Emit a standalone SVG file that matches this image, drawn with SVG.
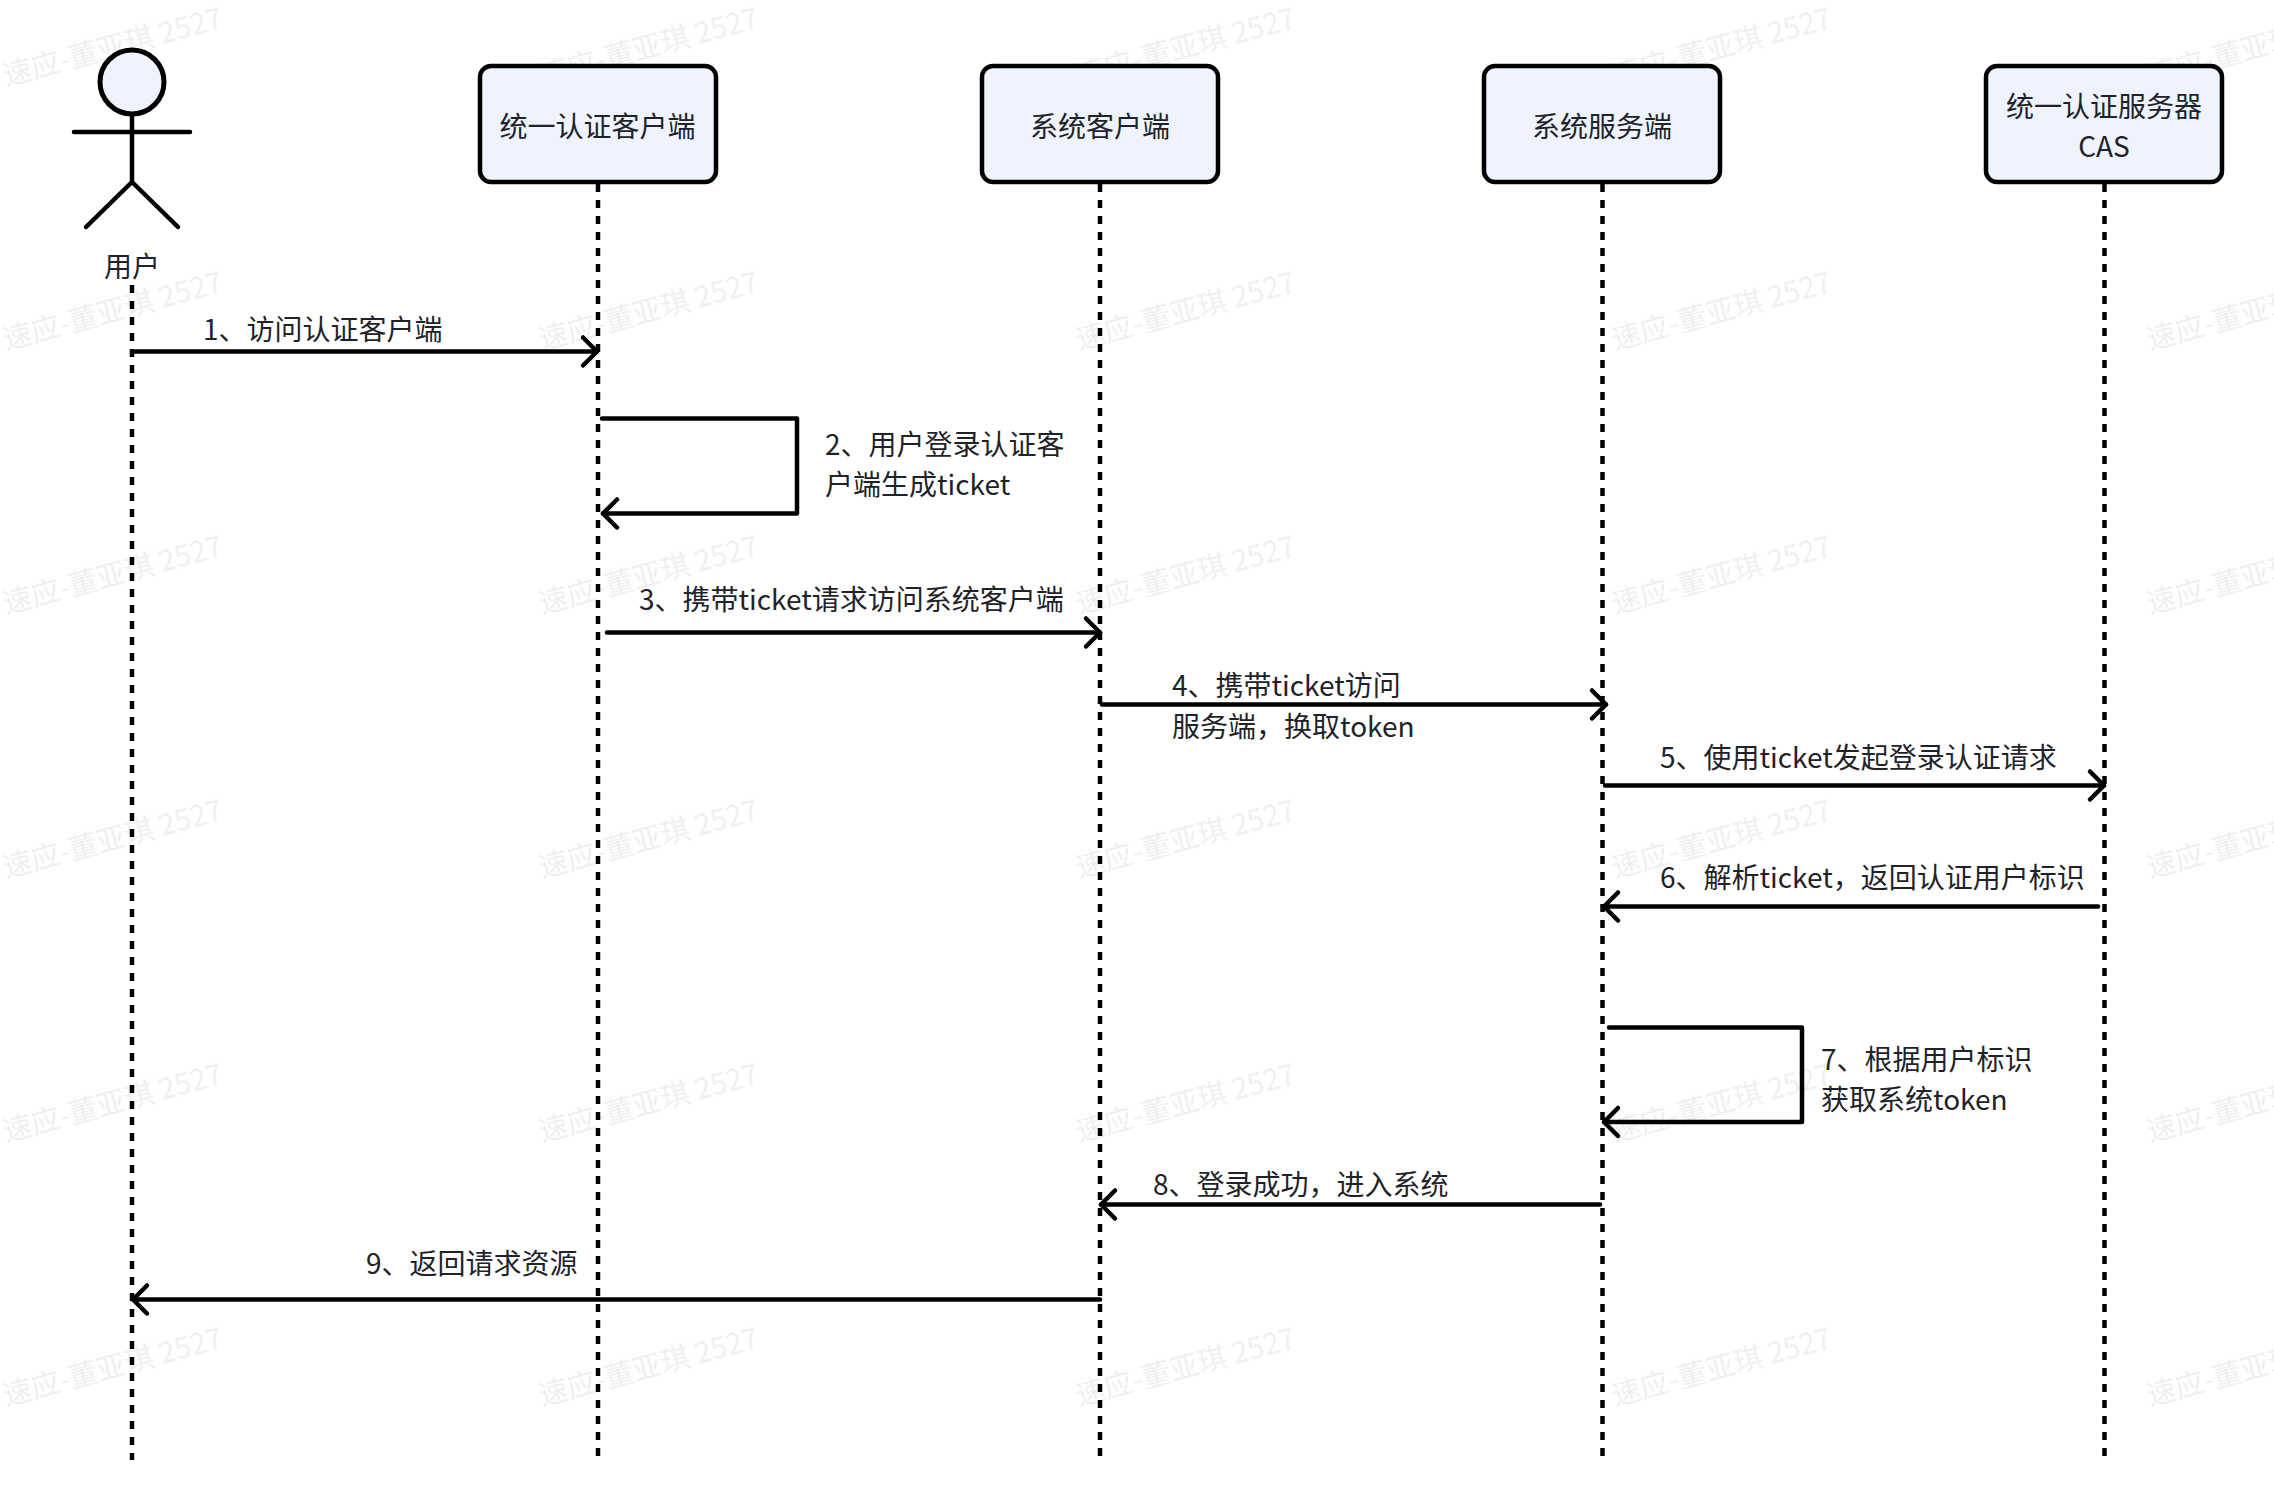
<svg xmlns="http://www.w3.org/2000/svg" width="2274" height="1512" viewBox="0 0 2274 1512">
<style>
text{font-family:"Noto Sans CJK SC","Noto Sans",sans-serif;font-size:28px;fill:#1f2329}
.wm{font-size:29px;fill:#f0f0f0}
.box{fill:#eef3fd;stroke:#000;stroke-width:4.5}
.c{text-anchor:middle}
.life{fill:none;stroke:#000;stroke-width:4.5;stroke-dasharray:8 8}
.msg{fill:none;stroke:#000;stroke-width:4.5;stroke-linejoin:round;stroke-linecap:round;marker-end:url(#arrow)}
.body{fill:none;stroke:#000;stroke-width:4.5;stroke-linecap:round}
</style>
<defs>
<marker id="arrow" markerUnits="userSpaceOnUse" markerWidth="24" markerHeight="36" refX="18" refY="18" orient="auto">
<path d="M4 4L18 18L4 32" fill="none" stroke="#000" stroke-width="4.500" stroke-linecap="round" stroke-linejoin="round"/>
</marker>
</defs>
<rect width="2274" height="1512" fill="#fff"/>
<g id="watermarks">
<text class="wm" transform="translate(6 86) rotate(-15)">速应-董亚琪 2527</text>
<text class="wm" transform="translate(542 86) rotate(-15)">速应-董亚琪 2527</text>
<text class="wm" transform="translate(1079 86) rotate(-15)">速应-董亚琪 2527</text>
<text class="wm" transform="translate(1615 86) rotate(-15)">速应-董亚琪 2527</text>
<text class="wm" transform="translate(2150 86) rotate(-15)">速应-董亚琪 2527</text>
<text class="wm" transform="translate(6 350) rotate(-15)">速应-董亚琪 2527</text>
<text class="wm" transform="translate(542 350) rotate(-15)">速应-董亚琪 2527</text>
<text class="wm" transform="translate(1079 350) rotate(-15)">速应-董亚琪 2527</text>
<text class="wm" transform="translate(1615 350) rotate(-15)">速应-董亚琪 2527</text>
<text class="wm" transform="translate(2150 350) rotate(-15)">速应-董亚琪 2527</text>
<text class="wm" transform="translate(6 614) rotate(-15)">速应-董亚琪 2527</text>
<text class="wm" transform="translate(542 614) rotate(-15)">速应-董亚琪 2527</text>
<text class="wm" transform="translate(1079 614) rotate(-15)">速应-董亚琪 2527</text>
<text class="wm" transform="translate(1615 614) rotate(-15)">速应-董亚琪 2527</text>
<text class="wm" transform="translate(2150 614) rotate(-15)">速应-董亚琪 2527</text>
<text class="wm" transform="translate(6 878) rotate(-15)">速应-董亚琪 2527</text>
<text class="wm" transform="translate(542 878) rotate(-15)">速应-董亚琪 2527</text>
<text class="wm" transform="translate(1079 878) rotate(-15)">速应-董亚琪 2527</text>
<text class="wm" transform="translate(1615 878) rotate(-15)">速应-董亚琪 2527</text>
<text class="wm" transform="translate(2150 878) rotate(-15)">速应-董亚琪 2527</text>
<text class="wm" transform="translate(6 1142) rotate(-15)">速应-董亚琪 2527</text>
<text class="wm" transform="translate(542 1142) rotate(-15)">速应-董亚琪 2527</text>
<text class="wm" transform="translate(1079 1142) rotate(-15)">速应-董亚琪 2527</text>
<text class="wm" transform="translate(1615 1142) rotate(-15)">速应-董亚琪 2527</text>
<text class="wm" transform="translate(2150 1142) rotate(-15)">速应-董亚琪 2527</text>
<text class="wm" transform="translate(6 1406) rotate(-15)">速应-董亚琪 2527</text>
<text class="wm" transform="translate(542 1406) rotate(-15)">速应-董亚琪 2527</text>
<text class="wm" transform="translate(1079 1406) rotate(-15)">速应-董亚琪 2527</text>
<text class="wm" transform="translate(1615 1406) rotate(-15)">速应-董亚琪 2527</text>
<text class="wm" transform="translate(2150 1406) rotate(-15)">速应-董亚琪 2527</text>
</g>
<g id="lifelines">
<path class="life" d="M132 285V1460"/>
<path class="life" d="M598 184V1457"/>
<path class="life" d="M1100 184V1457"/>
<path class="life" d="M1602.500 184V1457"/>
<path class="life" d="M2104.500 184V1457"/>
</g>
<g id="connectors">
<path class="msg" d="M132 351.500H597"/>
<path class="msg" d="M602 418.500H797V513.500H603"/>
<path class="msg" d="M607 632.500H1100"/>
<path class="msg" d="M1102 704.500H1606"/>
<path class="msg" d="M1605 785.500H2104"/>
<path class="msg" d="M2098 906.500H1604"/>
<path class="msg" d="M1609 1027.500H1802V1122H1604"/>
<path class="msg" d="M1600 1204.500H1101"/>
<path class="msg" d="M1100 1299.500H133"/>
</g>
<g id="labels">
<text x="203" y="340">1、访问认证客户端</text>
<text x="825" y="455">2、用户登录认证客</text>
<text x="825" y="495">户端生成ticket</text>
<text x="639" y="610">3、携带ticket请求访问系统客户端</text>
<text x="1172" y="696">4、携带ticket访问</text>
<text x="1172" y="737">服务端，换取token</text>
<text x="1660" y="768">5、使用ticket发起登录认证请求</text>
<text x="1660" y="888">6、解析ticket，返回认证用户标识</text>
<text x="1821" y="1070">7、根据用户标识</text>
<text x="1821" y="1110">获取系统token</text>
<text x="1153" y="1195">8、登录成功，进入系统</text>
<text x="366" y="1274">9、返回请求资源</text>
</g>
<g id="actor-user">
<circle cx="132" cy="82" r="32" fill="#eef3fd" stroke="#000" stroke-width="5"/>
<path class="body" d="M132 115V182M74 132H190M132 182L86 227M132 182L178 227"/>
<text class="c" x="132" y="277">用户</text>
</g>
<g id="node-auth-client">
<rect class="box" x="480" y="66" width="236" height="116" rx="11"/>
<text class="c" x="597.500" y="137">统一认证客户端</text>
</g>
<g id="node-sys-client">
<rect class="box" x="982" y="66" width="236" height="116" rx="11"/>
<text class="c" x="1100" y="137">系统客户端</text>
</g>
<g id="node-sys-server">
<rect class="box" x="1484" y="66" width="236" height="116" rx="11"/>
<text class="c" x="1602" y="137">系统服务端</text>
</g>
<g id="node-cas">
<rect class="box" x="1986" y="66" width="236" height="116" rx="11"/>
<text class="c" x="2104" y="117">统一认证服务器</text>
<text class="c" x="2104" y="157">CAS</text>
</g>
</svg>
